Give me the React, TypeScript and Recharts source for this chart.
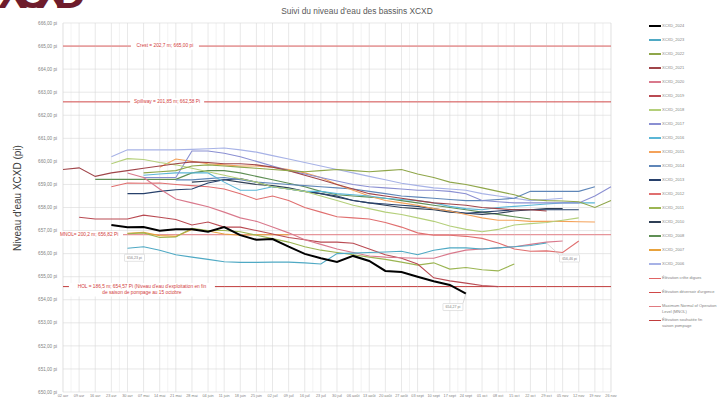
import { CartesianGrid, Line, LineChart, ReferenceLine, XAxis, YAxis } from "recharts";

const _ = null;

// weekly x categories (02 avr .. 26 nov)
const weeks = [
  "02 avr", "09 avr", "16 avr", "23 avr", "30 avr", "07 mai", "14 mai", "21 mai", "28 mai",
  "04 juin", "11 juin", "18 juin", "25 juin", "02 juil", "09 juil", "16 juil", "23 juil",
  "30 juil", "06 août", "13 août", "20 août", "27 août", "03 sept", "10 sept", "17 sept",
  "24 sept", "01 oct", "08 oct", "15 oct", "22 oct", "29 oct", "05 nov", "12 nov", "19 nov", "26 nov",
];

const yTicks = [650, 651, 652, 653, 654, 655, 656, 657, 658, 659, 660, 661, 662, 663, 664, 665, 666];

const xcxd2024 = [_, _, _, 657.24, 657.14, 657.15, 656.99, 657.06, 657.06, 656.95, 657.15, 656.8, 656.6, 656.63, 656.3, 655.99, 655.8, 655.64, 655.9, 655.68, 655.25, 655.2, 655.0, 654.8, 654.64, 654.27, _, _, _, _, _, _, _, _, _];
const xcxd2023 = [_, _, _, _, 656.23, 656.3, 656.15, 655.95, 655.85, 655.75, 655.65, 655.62, 655.62, 655.63, 655.63, 655.6, 655.55, 656.0, 656.02, 656.05, 656.07, 656.1, 655.95, 656.15, 656.25, 656.25, 656.2, 656.25, 656.3, 656.35, 656.46, _, _, _, _];
const xcxd2022 = [_, _, _, _, _, 659.5, 659.55, 659.6, 659.8, 659.85, 659.8, 659.75, 659.7, 659.65, 659.6, 659.55, 659.6, 659.65, 659.6, 659.55, 659.6, 659.65, 659.45, 659.3, 659.1, 659.0, 658.85, 658.7, 658.55, 658.35, 658.3, 658.28, 658.25, 658.0, 658.3];
const xcxd2021 = [659.65, 659.72, 659.35, 659.5, 659.6, 659.7, 659.8, 659.9, 659.98, 659.95, 659.9, 659.9, 659.85, 659.75, 659.6, 659.4, 659.2, 659.0, 658.8, 658.6, 658.5, 658.4, 658.3, 658.2, 658.15, 658.1, 658.0, 657.95, 657.9, 657.9, 657.85, _, _, _, _];
const xcxd2020 = [_, _, _, _, 659.5, 659.3, 658.8, 658.37, 658.2, 658.03, 657.8, 657.55, 657.4, 657.15, 656.9, 656.6, 656.4, 656.2, 656.05, 655.9, 655.85, 655.82, 655.8, 655.8, 656.0, 656.15, 656.2, 656.25, 656.3, 656.4, 656.5, 656.55, _, _, _];
const xcxd2019 = [_, 657.58, 657.5, 657.5, 657.5, 657.67, 657.58, 657.48, 657.24, 657.37, 657.15, 657.15, 657.0, 656.85, 656.7, 656.6, 656.5, 656.5, 656.45, 656.2, 655.95, 655.8, 655.55, 654.95, 654.82, 654.72, 654.62, 654.57, _, _, _, _, _, _, _];
const xcxd2018 = [_, _, _, 659.9, 660.12, 660.08, 659.95, 659.85, 659.7, 659.55, 659.4, 659.25, 659.1, 658.9, 658.8, 658.7, 658.5, 658.3, 658.1, 657.95, 657.8, 657.7, 657.55, 657.4, 657.2, 657.05, 656.95, 657.05, 657.24, 657.3, 657.35, 657.45, 657.55, _, _];
const xcxd2017 = [_, _, _, _, _, 659.3, 659.3, 659.3, 660.45, 660.45, 660.35, 660.2, 660.0, 659.8, 659.6, 659.45, 659.3, 659.15, 659.0, 658.9, 658.85, 658.8, 658.75, 658.75, 658.7, 658.6, 658.3, 658.25, 658.2, 658.2, 658.2, 658.2, 658.2, 658.5, 658.9];
const xcxd2016 = [_, _, _, _, _, 659.4, 659.45, 659.5, 659.5, 659.5, 659.1, 658.75, 658.75, 658.9, 658.8, 658.7, 658.7, 658.6, 658.55, 658.5, 658.4, 658.35, 658.3, 658.2, 658.05, 657.95, 657.9, 658.0, 658.05, 658.1, 658.15, 658.2, 658.2, 658.2, _];
const xcxd2015 = [_, _, _, _, _, _, 659.75, 660.1, 660.0, 659.9, 659.85, 659.8, 659.8, 659.75, 659.65, 659.5, 659.3, 659.0, 658.75, 658.5, 658.3, 658.2, 658.1, 657.95, 657.85, 657.7, 657.55, 657.45, 657.45, 657.4, 657.4, 657.4, 657.38, 657.37, _];
const xcxd2014 = [_, _, _, _, _, _, _, 659.2, 659.2, 659.25, 659.3, 659.2, 659.1, 659.05, 659.0, 658.95, 658.9, 658.85, 658.8, 658.7, 658.6, 658.5, 658.45, 658.4, 658.35, 658.3, 658.3, 658.35, 658.4, 658.7, 658.7, 658.7, 658.7, 658.9, _];
const xcxd2013 = [_, _, _, _, 658.6, 658.6, 658.7, 658.77, 658.8, 659.06, 659.2, 659.25, 659.1, 658.9, 658.8, 658.7, 658.6, 658.5, 658.3, 658.2, 658.15, 658.1, 658.05, 657.95, 657.85, 657.75, 657.8, 657.85, 657.9, 657.9, 657.9, 657.9, 657.9, _, _];
const xcxd2012 = [_, _, _, 658.9, 659.06, 659.05, 659.06, 659.0, 658.95, 658.9, 658.8, 658.6, 658.35, 658.5, 658.3, 658.0, 657.8, 657.6, 657.55, 657.5, 657.35, 657.15, 656.9, 656.8, 656.8, 656.75, 656.66, 656.46, 656.2, 656.1, 656.12, 656.05, 656.55, _, _];
const xcxd2011 = [_, _, _, _, 656.86, 656.9, 656.7, 656.72, 657.1, 657.0, 657.0, 656.95, 656.8, 656.65, 656.5, 656.3, 656.15, 656.05, 655.95, 655.85, 655.75, 655.63, 655.5, 655.6, 655.33, 655.4, 655.3, 655.25, 655.55, _, _, _, _, _, _];
const xcxd2010 = [_, _, _, _, _, _, _, _, 659.1, 659.15, 659.2, 659.1, 659.0, 658.95, 658.85, 658.7, 658.6, 658.45, 658.3, 658.2, 658.1, 658.0, 657.95, 657.9, 657.8, 657.75, 657.7, 657.75, 657.85, 657.9, 657.95, 657.95, _, _, _];
const xcxd2008 = [_, _, 659.22, 659.22, 659.22, 659.22, 659.22, 659.22, 659.5, 659.6, 659.6, 659.5, 659.35, 659.2, 659.05, 658.9, 658.7, 658.55, 658.5, 658.45, 658.4, 658.3, 658.2, 658.1, 658.0, 657.9, 657.8, 657.7, 657.6, 657.5, _, _, _, _, _];
const xcxd2007 = [_, _, _, _, 656.88, 656.92, 656.78, 656.75, 657.05, 656.98, 656.85, 656.8, 656.82, 656.82, 656.82, _, _, _, _, _, _, _, _, _, _, _, _, _, _, _, _, _, _, _, _];
const xcxd2006 = [_, _, _, 660.2, 660.5, 660.5, 660.5, 660.5, 660.52, 660.55, 660.58, 660.5, 660.4, 660.25, 660.1, 659.95, 659.8, 659.65, 659.5, 659.35, 659.2, 659.05, 658.95, 658.85, 658.8, 658.75, 658.6, 658.5, 658.4, 658.3, 658.35, 658.4, _, _, _];

// reference elevations (pi)
const creteDigues = 665;
const deversoirUrgence = 662.58;
const mnol = 656.82;
const finSaisonPompage = 654.57;

const series = [
  { key: "XCXD_2024", values: xcxd2024, color: "#000000", width: 2 },
  { key: "XCXD_2023", values: xcxd2023, color: "#4fa9c4", width: 1.1 },
  { key: "XCXD_2022", values: xcxd2022, color: "#8fa64a", width: 1.1 },
  { key: "XCXD_2021", values: xcxd2021, color: "#a0454a", width: 1.1 },
  { key: "XCXD_2020", values: xcxd2020, color: "#d9798c", width: 1.1 },
  { key: "XCXD_2019", values: xcxd2019, color: "#b94a52", width: 1.1 },
  { key: "XCXD_2018", values: xcxd2018, color: "#b4cf7a", width: 1.1 },
  { key: "XCXD_2017", values: xcxd2017, color: "#8a8fd2", width: 1.1 },
  { key: "XCXD_2016", values: xcxd2016, color: "#5bb6d6", width: 1.1 },
  { key: "XCXD_2015", values: xcxd2015, color: "#f4a25a", width: 1.1 },
  { key: "XCXD_2014", values: xcxd2014, color: "#5f86b8", width: 1.1 },
  { key: "XCXD_2013", values: xcxd2013, color: "#27406b", width: 1.1 },
  { key: "XCXD_2012", values: xcxd2012, color: "#e06f6f", width: 1.1 },
  { key: "XCXD_2011", values: xcxd2011, color: "#9bb552", width: 1.1 },
  { key: "XCXD_2010", values: xcxd2010, color: "#2f3f55", width: 1.1 },
  { key: "XCXD_2008", values: xcxd2008, color: "#5f8f55", width: 1.1 },
  { key: "XCXD_2007", values: xcxd2007, color: "#e8a23c", width: 1.1 },
  { key: "XCXD_2006", values: xcxd2006, color: "#a7b2e6", width: 1.1 },
];

const levels = [
  { key: "crete", value: creteDigues, color: "#e06464", legend: ["Élévation crête digues"] },
  { key: "deversoir", value: deversoirUrgence, color: "#d04848", legend: ["Élévation déversoir d'urgence"] },
  { key: "mnol", value: mnol, color: "#e07a80", legend: ["Maximum Normal of Operation", "Level (MNOL)"] },
  { key: "finSaison", value: finSaisonPompage, color: "#c03c3c", legend: ["Élévation souhaitée fin", "saison pompage"] },
];

const rows = weeks.map((label, i) => {
  const row: Record<string, number | string | null> = { day: i * 7, label };
  series.forEach((s) => (row[s.key] = s.values[i]));
  levels.forEach((l) => (row[l.key] = l.value));
  return row;
});

const weekTicks = weeks.map((w, i) => i * 7);
const halfWeekTicks = weeks.slice(1).map((w, i) => i * 7 + 3.5);

const FONT = "'Liberation Sans', Arial, sans-serif";
const LABEL_RED = "#d23c3c";

const fmtPi = (v: number) => `${v.toFixed(2).replace(".", ",")} pi`;

function LevelLabel(props: any) {
  const { viewBox, lines, at, anchor, fontSize = 4.8, boxWidth } = props;
  if (!viewBox) return null;
  const x0 = viewBox.x;
  const y0 = viewBox.y;
  const cx = anchor === "start" ? x0 + at : x0 + viewBox.width * at;
  const lh = fontSize * 1.3;
  const h = lines.length * lh + 1;
  const top = y0 - (lines.length === 1 ? h / 2 : lh / 2 + 0.5);
  const rectX = anchor === "start" ? cx - 1 : cx - boxWidth / 2;
  return (
    <g>
      <rect x={rectX} y={top} width={boxWidth} height={h} fill="#ffffff" />
      <text
        fontFamily={FONT}
        fontSize={fontSize}
        fill={LABEL_RED}
        textAnchor={anchor === "start" ? "start" : "middle"}
      >
        {lines.map((l: string, k: number) => (
          <tspan key={k} x={cx} y={top + 0.5 + lh * k + lh * 0.72}>
            {l}
          </tspan>
        ))}
      </text>
    </g>
  );
}

function callout(target: number, dx: number, dy: number) {
  return (p: any) => {
    if (p.index !== target || p.value == null) return <g />;
    const w = 20;
    const h = 7;
    const bx = p.x + dx - w / 2;
    const by = p.y + dy - h / 2;
    const cornerX = dx < 0 ? bx + w : bx;
    return (
      <g>
        {Math.abs(dx) > 10 && (
          <line x1={p.x} y1={p.y} x2={cornerX} y2={by} stroke="#bfbfbf" strokeWidth={0.6} />
        )}
        <rect x={bx} y={by} width={w} height={h} fill="#ffffff" stroke="#c8c8c8" strokeWidth={0.5} rx={0.5} />
        <text x={bx + w / 2} y={by + h * 0.68} fontFamily={FONT} fontSize={3.6} fill="#7f7f7f" textAnchor="middle">
          {fmtPi(p.value)}
        </text>
      </g>
    );
  };
}

const legendItems = [
  ...series.map((s) => ({ lines: [s.key], color: s.color, width: s.width })),
  ...levels.map((l) => ({ lines: l.legend, color: l.color, width: 1 })),
];

export default function App() {
  return (
    <div style={{ position: "relative", width: 720, height: 402, background: "#ffffff", overflow: "hidden" }}>
      <style>{"body{margin:0}"}</style>
      <svg width={720} height={402} style={{ position: "absolute", left: 0, top: 0 }}>
        <text x={-2} y={8} fontFamily={FONT} fontWeight={900} fontSize={44} fill="#6e1c2c" textLength={88}>
          XCXD
        </text>
        <text x={357} y={14} fontFamily={FONT} fontSize={8.4} fill="#595959" textAnchor="middle">
          Suivi du niveau d'eau des bassins XCXD
        </text>
        <text
          x={21}
          y={198}
          fontFamily={FONT}
          fontSize={10}
          fill="#404040"
          textAnchor="middle"
          transform="rotate(-90 21 198)"
        >
          Niveau d'eau XCXD (pi)
        </text>
      </svg>
      <div style={{ position: "absolute", left: 0, top: 0 }}>
        <LineChart width={720} height={402} data={rows} margin={{ top: 23, right: 109, bottom: 0, left: 0 }}>
          <CartesianGrid xAxisId="minor" horizontal={false} stroke="#ebebeb" strokeWidth={0.6} />
          <CartesianGrid stroke="#d9d9d9" strokeWidth={0.6} />
          <XAxis
            xAxisId="minor"
            dataKey="day"
            type="number"
            domain={[0, 238]}
            ticks={halfWeekTicks}
            hide
          />
          <XAxis
            dataKey="day"
            type="number"
            domain={[0, 238]}
            ticks={weekTicks}
            interval={0}
            tickFormatter={(d: number) => weeks[Math.round(d / 7)]}
            height={10}
            axisLine={false}
            tickLine={false}
            tickSize={0}
            tickMargin={2}
            tick={{ fontSize: 3.8, fill: "#7f7f7f", fontFamily: FONT }}
          />
          <YAxis
            domain={[650, 666]}
            ticks={yTicks}
            interval={0}
            width={63}
            axisLine={false}
            tickLine={false}
            tickSize={4}
            tickMargin={2}
            tickFormatter={fmtPi}
            tick={{ fontSize: 4.6, fill: "#7f7f7f", fontFamily: FONT }}
          />
          {levels.map((l) => (
            <Line
              key={l.key}
              dataKey={l.key}
              stroke={l.color}
              strokeWidth={1}
              dot={false}
              activeDot={false}
              isAnimationActive={false}
            />
          ))}
          {[...series].reverse().map((s) => (
            <Line
              key={s.key}
              dataKey={s.key}
              stroke={s.color}
              strokeWidth={s.width}
              dot={false}
              activeDot={false}
              isAnimationActive={false}
              label={
                s.key === "XCXD_2024"
                  ? callout(25, -13, 13.5)
                  : s.key === "XCXD_2023"
                  ? (p: any) => (p.index === 4 ? callout(4, 7, 9.5)(p) : callout(30, 23, 15.5)(p))
                  : undefined
              }
            />
          ))}
          <ReferenceLine
            y={creteDigues}
            stroke="none"
            label={<LevelLabel lines={["Crest = 202,7 m;  665,00 pi"]} at={0.186} boxWidth={68} />}
          />
          <ReferenceLine
            y={deversoirUrgence}
            stroke="none"
            label={<LevelLabel lines={["Spillway = 201,85 m; 662,58 Pi"]} at={0.19} boxWidth={74} />}
          />
          <ReferenceLine
            y={mnol}
            stroke="none"
            label={<LevelLabel lines={["MNOL= 200,2 m; 656,82 Pi"]} at={-3} anchor="start" boxWidth={64} />}
          />
          <ReferenceLine
            y={finSaisonPompage}
            stroke="none"
            label={
              <LevelLabel
                lines={["HOL = 186,5 m; 654,57 Pi (Niveau d'eau d'exploitation en fin", "de saison de pompage au 15 octobre"]}
                at={0.144}
                boxWidth={146}
              />
            }
          />
        </LineChart>
      </div>
      {legendItems.map((it, k) => (
        <div
          key={k}
          style={{
            position: "absolute",
            left: 649,
            top: 26 + 14 * k - 3,
            display: "flex",
            alignItems: "flex-start",
            fontFamily: FONT,
            fontSize: 4,
            lineHeight: "6px",
            color: "#7f7f7f",
            whiteSpace: "nowrap",
          }}
        >
          <div style={{ width: 12, height: 6, position: "relative", marginRight: 1 }}>
            <div
              style={{
                position: "absolute",
                left: 0,
                right: 0,
                top: 3 - it.width / 2,
                height: it.width,
                background: it.color,
              }}
            />
          </div>
          <div>
            {it.lines.map((l, j) => (
              <div key={j}>{l}</div>
            ))}
          </div>
        </div>
      ))}
    </div>
  );
}
